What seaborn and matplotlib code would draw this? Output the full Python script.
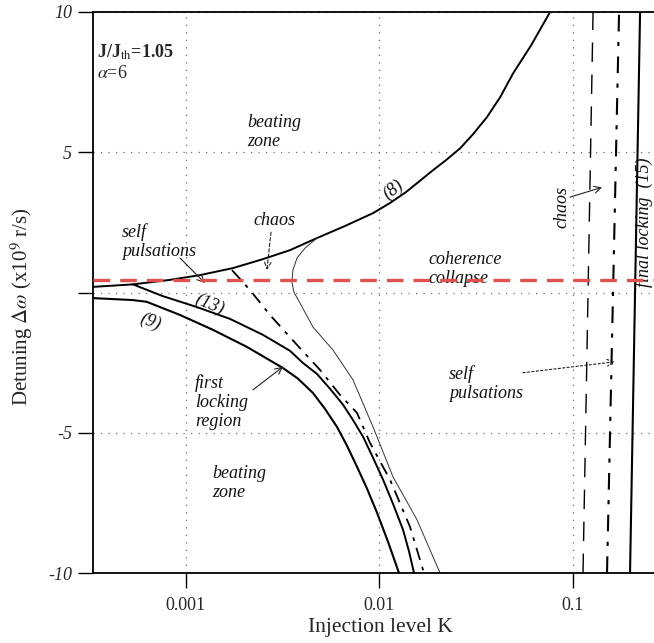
import matplotlib
matplotlib.use("Agg")
import matplotlib.pyplot as plt
from matplotlib.ticker import NullLocator, FixedLocator, FixedFormatter
import seaborn as sns

# ---- boundary curves in the (K, detuning) plane -------------------------
# (8): upper boundary of the stable / unstable region
k_8 = [3.31e-4, 5.32e-4, 8.27e-4, 1.181e-3, 1.749e-3, 2.50e-3, 3.45e-3,
       4.75e-3, 6.63e-3, 9.26e-3, 1.133e-2, 1.371e-2, 1.890e-2, 2.207e-2,
       2.61e-2, 3.04e-2, 3.59e-2, 4.20e-2, 4.90e-2, 6.07e-2, 7.61e-2]
dw_8 = [0.20, 0.29, 0.45, 0.62, 0.87, 1.19, 1.51, 1.94, 2.37, 2.83, 3.19,
        3.58, 4.36, 4.72, 5.14, 5.64, 6.25, 6.96, 7.81, 8.81, 10.0]

# (9): lower boundary
k_9 = [3.31e-4, 5.32e-4, 6.26e-4, 9.31e-4, 1.378e-3, 2.066e-3, 3.17e-3,
       3.79e-3, 4.53e-3, 5.23e-3, 6.03e-3, 6.79e-3, 7.65e-3, 8.62e-3,
       9.71e-3, 1.106e-2, 1.261e-2]
dw_9 = [-0.20, -0.27, -0.33, -0.80, -1.33, -1.94, -2.69, -3.07, -3.58,
        -4.15, -4.79, -5.46, -6.21, -6.99, -7.85, -8.88, -10.0]

# (13): saddle-node boundary of the first locking region
k_13 = [5.32e-4, 7.60e-4, 1.140e-3, 1.688e-3, 2.50e-3, 3.45e-3, 4.02e-3,
        4.75e-3, 5.55e-3, 6.48e-3, 7.29e-3, 8.22e-3, 9.26e-3, 1.043e-2,
        1.174e-2, 1.322e-2, 1.420e-2, 1.508e-2]
dw_13 = [0.29, -0.13, -0.52, -0.94, -1.51, -2.08, -2.51, -2.90, -3.43,
         -4.00, -4.54, -5.14, -5.89, -6.67, -7.53, -8.45, -9.22, -10.0]

# Hopf boundary (self pulsations), dash-dotted
k_hopf = [1.729e-3, 2.141e-3, 2.717e-3, 3.75e-3, 4.93e-3, 6.25e-3, 7.65e-3,
          8.93e-3, 1.133e-2, 1.437e-2, 1.698e-2]
dw_hopf = [0.80, 0.09, -0.80, -1.87, -2.76, -3.65, -4.29, -5.36, -6.67,
           -8.35, -10.0]

# onset of chaos, thin line
k_chaos = [4.75e-3, 4.12e-3, 3.75e-3, 3.57e-3, 3.53e-3, 3.61e-3, 3.88e-3,
           4.53e-3, 5.75e-3, 7.29e-3, 9.26e-3, 1.174e-2, 1.562e-2, 2.055e-2]
dw_chaos = [1.94, 1.58, 1.23, 0.80, 0.37, 0.02, -0.37, -1.23, -2.05, -3.11,
            -4.79, -6.57, -8.10, -10.0]

# high-injection boundaries
k_chaos_hi = [0.1126, 0.1269]
dw_chaos_hi = [-10.0, 10.0]
k_sp_hi = [0.1498, 0.1729]
dw_sp_hi = [-10.0, 10.0]
k_15 = [0.1970, 0.2220]
dw_15 = [-10.0, 10.0]

# coherence collapse level
dw_cc = 0.45

x_ticks = [1e-3, 1e-2, 1e-1]
x_tick_labels = ["0.001", "0.01", "0.1"]
y_ticks = [-10, -5, 0, 5, 10]
y_tick_labels = ["-10", "-5", "", "5", "10"]

# ---- style ---------------------------------------------------------------
sns.set_style("ticks")
plt.rcParams["font.family"] = ["Liberation Serif", "DejaVu Serif"]
plt.rcParams["mathtext.fontset"] = "stix"

fig = plt.figure(figsize=(6.54, 6.43), dpi=100)
ax = fig.add_axes([93 / 654, 1 - 573 / 643, 561 / 654, 561 / 643])

line_kw = dict(ax=ax, sort=False, estimator=None, legend=False)
sns.lineplot(x=k_8, y=dw_8, color="black", linewidth=1.4, **line_kw)
sns.lineplot(x=k_9, y=dw_9, color="black", linewidth=1.5, **line_kw)
sns.lineplot(x=k_13, y=dw_13, color="black", linewidth=1.4, **line_kw)
sns.lineplot(x=k_hopf, y=dw_hopf, color="black", linewidth=1.3,
             linestyle=(0, (7, 4, 2, 4)), **line_kw)
sns.lineplot(x=k_chaos, y=dw_chaos, color="#333333", linewidth=0.7, **line_kw)
sns.lineplot(x=k_chaos_hi, y=dw_chaos_hi, color="black", linewidth=1.0,
             linestyle=(0, (14, 9)), **line_kw)
sns.lineplot(x=k_sp_hi, y=dw_sp_hi, color="black", linewidth=1.5,
             linestyle=(0, (8, 5, 2, 5)), **line_kw)
sns.lineplot(x=k_15, y=dw_15, color="black", linewidth=1.5, **line_kw)
ax.axhline(dw_cc, color="#e0524f", linewidth=2.4, linestyle=(0, (5, 3)),
           zorder=5)

ax.set_xscale("log")
ax.set_xlim(3.31e-4, 0.262)
ax.set_ylim(-10, 10)
ax.xaxis.set_major_locator(FixedLocator(x_ticks))
ax.xaxis.set_major_formatter(FixedFormatter(x_tick_labels))
ax.xaxis.set_minor_locator(NullLocator())
ax.yaxis.set_major_locator(FixedLocator(y_ticks))
ax.yaxis.set_major_formatter(FixedFormatter(y_tick_labels))

ax.grid(True, which="major", color="#6f6f6f", linewidth=0.9,
        linestyle=(0, (1, 5)))
ax.tick_params(axis="x", direction="out", length=11, width=1.0,
               labelsize=13, pad=6, color="black")
ax.tick_params(axis="y", direction="out", length=11, width=1.0,
               labelsize=13, pad=4, color="black")
for lab in ax.get_yticklabels():
    lab.set_fontstyle("italic")
for side in ("left", "bottom", "top"):
    ax.spines[side].set_color("black")
    ax.spines[side].set_linewidth(1.3)
ax.spines["right"].set_visible(False)

ax.set_xlabel("Injection level K", fontsize=15.5)
ax.set_ylabel(r"Detuning $\Delta\omega$ (x10$^9$ r/s)", fontsize=15)
ax.xaxis.set_label_coords(0.512, -0.080)
ax.yaxis.set_label_coords(-0.103, 0.474)

# ---- labels and annotations ----------------------------------------------
it = dict(fontstyle="italic", fontsize=13, color="#111111", linespacing=1.15)

ax.text(3.47e-4, 8.56, r"J/J$_{\rm th}$=1.05", fontsize=13, fontweight="bold",
        va="center", ha="left")
ax.text(3.47e-4, 7.81, r"$\alpha$=6", fontsize=13, va="center", ha="left")

ax.text(2.07e-3, 5.71, "beating\nzone", va="center", ha="left", **it)
ax.text(1.362e-3, -6.78, "beating\nzone", va="center", ha="left", **it)
ax.text(1.781e-2, 0.84, "coherence\ncollapse", va="center", ha="left", **it)
ax.text(1.113e-3, -3.91, "first\nlocking\nregion", va="center", ha="left",
        **it)
ax.text(4.67e-4, 1.81, "self\npulsations", va="center", ha="left", **it)
ax.text(2.287e-2, -3.26, "self\npulsations", va="center", ha="left", **it)
ax.text(2.22e-3, 2.58, "chaos", va="center", ha="left", **it)
ax.text(0.0877, 3.04, "chaos", va="center", ha="center", rotation=90, **it)
ax.text(0.2325, 2.51, "final locking  (15)", va="center", ha="center",
        rotation=90, **it)

ax.text(1.174e-2, 3.65, "(8)", va="center", ha="center", rotation=38, **it)
ax.text(1.331e-3, -0.44, "(13)", va="center", ha="center", rotation=-22, **it)
ax.text(6.52e-4, -1.05, "(9)", va="center", ha="center", rotation=-22, **it)

arrow = dict(arrowstyle="->", color="#222222", linewidth=0.8,
             shrinkA=0, shrinkB=0, mutation_scale=12)
ax.annotate("", xy=(2.62e-3, 0.80), xytext=(2.75e-3, 2.15),
            arrowprops=dict(arrow, linestyle=(0, (3, 2))))
ax.annotate("", xy=(1.253e-3, 0.34), xytext=(9.31e-4, 1.23),
            arrowprops=arrow)
ax.annotate("", xy=(0.1412, 3.75), xytext=(0.0965, 3.40),
            arrowprops=arrow)
ax.annotate("", xy=(3.17e-3, -2.65), xytext=(2.22e-3, -3.47),
            arrowprops=arrow)
ax.annotate("", xy=(0.1648, -2.47), xytext=(0.0551, -2.86),
            arrowprops=dict(arrow, linestyle=(0, (2, 2))))

fig.savefig("out.png", dpi=100)
